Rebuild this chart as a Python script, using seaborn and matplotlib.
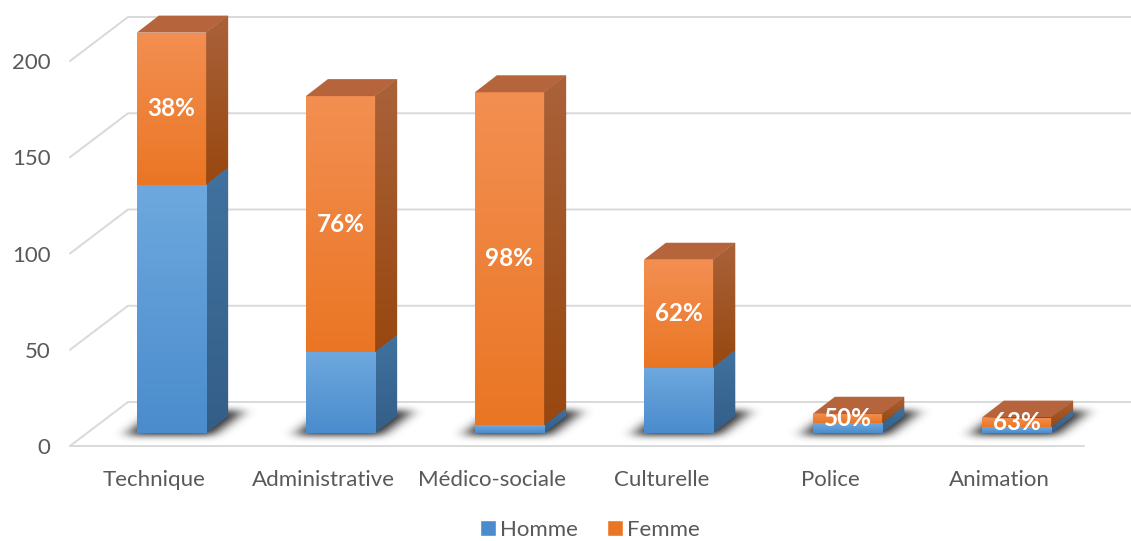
import matplotlib.pyplot as plt
import numpy as np
import seaborn as sns
from matplotlib.colors import LinearSegmentedColormap
from matplotlib.patches import Patch, Polygon

# ------------------------------------------------------------------------------
# Data
# ------------------------------------------------------------------------------
categories = ["Technique", "Administrative", "Médico-sociale", "Culturelle", "Police", "Animation"]
homme = [129, 42, 4, 34, 5, 3]
femme = [79, 133, 173, 56, 5, 5]
pct_labels = ["38%", "76%", "98%", "62%", "50%", "63%"]
y_ticks = [0, 50, 100, 150, 200]
series_names = ["Homme", "Femme"]

# ------------------------------------------------------------------------------
# Style / geometry (pixels of the 1131x541 canvas)
# ------------------------------------------------------------------------------
sns.set_theme(style="white")
plt.rcParams["font.family"] = ["Lato", "DejaVu Sans"]

W, H = 1131, 541
PX_CAT = 169.0          # px per category slot
PX_VAL = 1.925          # px per value unit
X0_PX, FLOOR_PX = 70, 446
YMAX = 230
BAR_SHIFT = (17, 13)    # bar front face vs. front wall
WALL_DEPTH = (58, 44)   # front wall -> back wall
BAR_DEPTH = (22, 17)
BAR_W = 0.41

TEXT_GREY = "#595959"
GRID = "#D9D9D9"
BLUE = {"top": "#6EA8DE", "bot": "#4A8CCD", "side_t": "#41729F", "side_b": "#335E88"}
ORANGE = {"top": "#F38F52", "bot": "#EA7624", "side_t": "#AA623A", "side_b": "#98480F",
          "cap": "#B5643C"}

wdx, wdy = WALL_DEPTH[0] / PX_CAT, WALL_DEPTH[1] / PX_VAL
bdx, bdy = BAR_DEPTH[0] / PX_CAT, BAR_DEPTH[1] / PX_VAL
totals = [h + f for h, f in zip(homme, femme)]
n = len(categories)

fig = plt.figure(figsize=(W / 100, H / 100), dpi=100)
rect = [X0_PX / W, (H - FLOOR_PX) / H, n * PX_CAT / W, YMAX * PX_VAL / H]
ax = fig.add_axes(rect)
ax2 = fig.add_axes([rect[0] + BAR_SHIFT[0] / W, rect[1] + BAR_SHIFT[1] / H, rect[2], rect[3]])
ax2.patch.set_visible(False)


def shade(axis, clip, extent, c_top, c_bot, z):
    cmap = LinearSegmentedColormap.from_list("g", [c_bot, c_top])
    grad = np.linspace(0, 1, 128).reshape(-1, 1)
    im = axis.imshow(grad, cmap=cmap, origin="lower", extent=extent, aspect="auto",
                     zorder=z, interpolation="bilinear")
    im.set_clip_path(clip)


def gauss_blur(img, sx, sy):
    def kern(s):
        r = np.arange(-3 * int(s) - 1, 3 * int(s) + 2)
        k = np.exp(-0.5 * (r / s) ** 2)
        return k / k.sum()
    kx, ky = kern(sx), kern(sy)
    img = np.apply_along_axis(lambda r: np.convolve(r, kx, mode="same"), 1, img)
    return np.apply_along_axis(lambda c: np.convolve(c, ky, mode="same"), 0, img)


# --- Walls: perspective gridlines (front-left diagonal + back wall) ---
for v in y_ticks:
    ax.plot([-0.5, -0.5 + wdx, n - 0.5 + wdx], [v, v + wdy, v + wdy],
            color=GRID, lw=1.4, zorder=0, clip_on=False)
ax.plot([-0.5, n - 0.5], [0, 0], color=GRID, lw=1.4, zorder=0, clip_on=False)

ax.set_xlim(-0.5, n - 0.5)
ax.set_ylim(0, YMAX)
ax.set_xticks(range(n))
ax.set_xticklabels(categories)
ax.set_yticks(y_ticks)
ax.tick_params(axis="both", length=0, labelsize=16, labelcolor=TEXT_GREY)
ax.tick_params(axis="y", pad=14)
ax.tick_params(axis="x", pad=17)
sns.despine(ax=ax, left=True, bottom=True)
ax.grid(False)

# --- Bars (stacked: totals in orange, homme on top in blue) ---
sns.barplot(x=categories, y=totals, color=ORANGE["bot"], width=BAR_W, saturation=1, ax=ax2)
sns.barplot(x=categories, y=homme, color=BLUE["bot"], width=BAR_W, saturation=1, ax=ax2)
fem_bars = ax2.patches[:n]
hom_bars = ax2.patches[n:2 * n]

# --- Floor shadows: blurred footprint of every bar (pixel grid in ax2 space) ---
gx = np.arange(-20, n * PX_CAT + 60)
gy = np.arange(-18, BAR_DEPTH[1] + 22)
GX, GY = np.meshgrid(gx, gy)
mask = np.zeros(GX.shape)
for fb in fem_bars:
    x0p = (fb.get_x() + 0.5) * PX_CAT
    x1p = x0p + fb.get_width() * PX_CAT
    skew = GY * BAR_DEPTH[0] / BAR_DEPTH[1]
    inside = (GX >= x0p - 9 + skew) & (GX <= x1p + 9 + skew) & (GY >= -2) & (GY <= BAR_DEPTH[1] + 5)
    mask[inside] = 1.0
alpha = np.clip(gauss_blur(mask, 7, 3.5) * 0.85, 0, 1)
rgba = np.zeros(alpha.shape + (4,))
rgba[..., 3] = alpha
ax2.imshow(rgba, origin="lower", aspect="auto", zorder=1, clip_on=False,
           interpolation="bilinear",
           extent=(-0.5 + gx[0] / PX_CAT, -0.5 + gx[-1] / PX_CAT,
                   gy[0] / PX_VAL, gy[-1] / PX_VAL))

for i in range(n):
    fb, hb = fem_bars[i], hom_bars[i]
    x0 = fb.get_x()
    x1 = x0 + fb.get_width()
    tot, h = totals[i], homme[i]

    fb.set_zorder(3)
    hb.set_zorder(4)
    fb.set_edgecolor("none")
    hb.set_edgecolor("none")
    shade(ax2, fb, (x0, x1, h, tot), ORANGE["top"], ORANGE["bot"], 3.5)
    shade(ax2, hb, (x0, x1, 0, max(h, 0.1)), BLUE["top"], BLUE["bot"], 4.5)

    side_f = Polygon([(x1, h), (x1 + bdx, h + bdy), (x1 + bdx, tot + bdy), (x1, tot)],
                     closed=True, facecolor=ORANGE["side_b"], edgecolor="none", zorder=3)
    ax2.add_patch(side_f)
    shade(ax2, side_f, (x1, x1 + bdx, h, tot + bdy), ORANGE["side_t"], ORANGE["side_b"], 3.5)
    side_h = Polygon([(x1, 0), (x1 + bdx, bdy), (x1 + bdx, h + bdy), (x1, h)],
                     closed=True, facecolor=BLUE["side_b"], edgecolor="none", zorder=3)
    ax2.add_patch(side_h)
    shade(ax2, side_h, (x1, x1 + bdx, 0, h + bdy), BLUE["side_t"], BLUE["side_b"], 3.5)
    cap = Polygon([(x0, tot), (x1, tot), (x1 + bdx, tot + bdy), (x0 + bdx, tot + bdy)],
                  closed=True, facecolor=ORANGE["cap"], edgecolor="none", zorder=5)
    ax2.add_patch(cap)

    ax2.text(i, h + femme[i] / 2, pct_labels[i], ha="center", va="center", color="white",
             fontsize=17.5, fontweight="bold", zorder=6)

ax2.set_xlim(-0.5, n - 0.5)
ax2.set_ylim(0, YMAX)
ax2.axis("off")

# --- Legend ---
handles = [Patch(facecolor=BLUE["bot"]), Patch(facecolor=ORANGE["bot"])]
fig.legend(handles, series_names, loc="center", bbox_to_anchor=(590 / W, 1 - 530 / H),
           ncol=2, frameon=False, fontsize=16, labelcolor=TEXT_GREY, borderpad=0.1,
           handlelength=0.7, handleheight=0.7, handletextpad=0.2, columnspacing=1.3)

fig.savefig("out.png", dpi=100)
